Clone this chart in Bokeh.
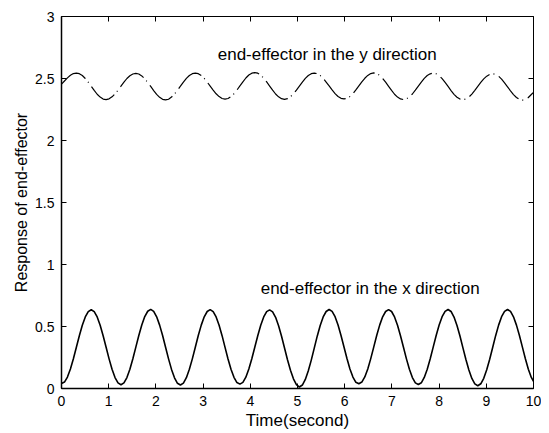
import numpy as np
from bokeh.plotting import figure
from bokeh.models import LinearAxis, FixedTicker, Label, Range1d
from bokeh.embed import file_html
from bokeh.resources import INLINE

# sampling grid (s)
time_s = list(np.round(np.arange(159) * 0.063, 3)) + [10.0]

# end-effector response, x direction
x_response = [
    0.040, 0.052, 0.092, 0.158, 0.240, 0.333, 0.426, 0.510, 0.577, 0.620, 0.635, 0.620, 0.577, 0.510, 0.426, 0.333, 0.239, 0.155, 0.088, 0.045,
    0.030, 0.045, 0.088, 0.155, 0.240, 0.334, 0.428, 0.512, 0.580, 0.623, 0.638, 0.622, 0.578, 0.511, 0.427, 0.333, 0.239, 0.154, 0.086, 0.042,
    0.028, 0.043, 0.087, 0.155, 0.239, 0.333, 0.427, 0.511, 0.578, 0.621, 0.636, 0.620, 0.577, 0.510, 0.426, 0.332, 0.238, 0.156, 0.090, 0.048,
    0.035, 0.049, 0.091, 0.157, 0.240, 0.333, 0.426, 0.510, 0.577, 0.620, 0.634, 0.618, 0.574, 0.506, 0.421, 0.327, 0.232, 0.147, 0.078, 0.032,
    0.012, 0.028, 0.073, 0.143, 0.229, 0.326, 0.422, 0.508, 0.577, 0.621, 0.637, 0.622, 0.579, 0.512, 0.428, 0.335, 0.242, 0.158, 0.092, 0.050,
    0.038, 0.052, 0.093, 0.158, 0.241, 0.334, 0.427, 0.511, 0.578, 0.621, 0.636, 0.621, 0.577, 0.510, 0.426, 0.333, 0.239, 0.155, 0.088, 0.045,
    0.032, 0.046, 0.089, 0.156, 0.240, 0.334, 0.428, 0.512, 0.579, 0.622, 0.637, 0.621, 0.576, 0.508, 0.423, 0.328, 0.234, 0.149, 0.081, 0.037,
    0.022, 0.038, 0.082, 0.151, 0.236, 0.331, 0.426, 0.511, 0.579, 0.622, 0.637, 0.622, 0.578, 0.511, 0.427, 0.334, 0.240, 0.156, 0.089,
    0.058,
]

# end-effector response, y direction
y_response = [
    2.455, 2.480, 2.505, 2.526, 2.540, 2.544, 2.539, 2.524, 2.500, 2.470, 2.437, 2.404, 2.373, 2.350, 2.334, 2.330, 2.336, 2.352, 2.376, 2.406,
    2.438, 2.470, 2.500, 2.522, 2.536, 2.541, 2.536, 2.521, 2.498, 2.468, 2.436, 2.403, 2.372, 2.348, 2.332, 2.327, 2.333, 2.350, 2.375, 2.406,
    2.438, 2.471, 2.501, 2.524, 2.539, 2.544, 2.539, 2.524, 2.501, 2.471, 2.439, 2.407, 2.377, 2.354, 2.339, 2.334, 2.339, 2.354, 2.377, 2.407,
    2.440, 2.473, 2.504, 2.528, 2.543, 2.548, 2.543, 2.527, 2.503, 2.472, 2.439, 2.406, 2.375, 2.352, 2.337, 2.332, 2.337, 2.353, 2.376, 2.407,
    2.439, 2.471, 2.501, 2.524, 2.539, 2.544, 2.539, 2.524, 2.501, 2.471, 2.440, 2.408, 2.378, 2.355, 2.340, 2.335, 2.340, 2.355, 2.378, 2.408,
    2.440, 2.472, 2.502, 2.525, 2.540, 2.545, 2.540, 2.525, 2.501, 2.470, 2.437, 2.404, 2.373, 2.350, 2.335, 2.330, 2.335, 2.351, 2.375, 2.406,
    2.439, 2.471, 2.501, 2.524, 2.538, 2.543, 2.538, 2.523, 2.499, 2.468, 2.436, 2.403, 2.372, 2.349, 2.334, 2.329, 2.334, 2.350, 2.374, 2.405,
    2.437, 2.468, 2.497, 2.519, 2.533, 2.538, 2.533, 2.518, 2.495, 2.465, 2.433, 2.401, 2.370, 2.347, 2.331, 2.326, 2.331, 2.347, 2.371,
    2.388,
]

x_ticks = [0, 1, 2, 3, 4, 5, 6, 7, 8, 9, 10]
y_ticks = [0, 0.5, 1, 1.5, 2, 2.5, 3]
y_tick_labels = {0: "0", 0.5: "0.5", 1: "1", 1.5: "1.5", 2: "2", 2.5: "2.5", 3: "3"}

label_y_text = "end-effector in the y direction"
label_x_text = "end-effector in the x direction"

FONT = "Liberation Sans"

p = figure(width=541, height=433, output_backend="svg", toolbar_location=None,
           x_range=Range1d(0, 10), y_range=Range1d(0, 3),
           min_border_left=61, min_border_right=8, min_border_top=16, min_border_bottom=45)
p.background_fill_color = "white"
p.border_fill_color = "white"
p.outline_line_color = "black"
p.outline_line_width = 1
p.xgrid.visible = False
p.ygrid.visible = False

p.line(time_s, x_response, line_color="black", line_width=1.6)
p.line(time_s, y_response, line_color="black", line_width=1.2, line_dash="30 4 1 5")

for ax in (p.xaxis[0], p.yaxis[0]):
    ax.major_tick_in = 5
    ax.major_tick_out = 0
    ax.minor_tick_line_color = None
    ax.axis_line_color = "black"
    ax.axis_line_width = 1.5
    ax.major_label_text_font = FONT
    ax.major_label_text_font_size = "14px"
    ax.major_label_text_color = "black"
    ax.axis_label_text_font = FONT
    ax.axis_label_text_font_style = "normal"
    ax.axis_label_text_color = "black"

p.xaxis[0].ticker = FixedTicker(ticks=x_ticks)
p.yaxis[0].ticker = FixedTicker(ticks=y_ticks)
p.yaxis[0].major_label_overrides = y_tick_labels
p.xaxis[0].axis_label = "Time(second)"
p.yaxis[0].axis_label = "Response of end-effector"
p.xaxis[0].axis_label_text_font_size = "17px"
p.yaxis[0].axis_label_text_font_size = "16px"
p.xaxis[0].axis_label_standoff = 2
p.yaxis[0].axis_label_standoff = 2
p.xaxis[0].major_label_standoff = 7
p.yaxis[0].major_label_standoff = 7

top_axis = LinearAxis(ticker=FixedTicker(ticks=x_ticks))
right_axis = LinearAxis(ticker=FixedTicker(ticks=y_ticks))
for ax in (top_axis, right_axis):
    ax.major_tick_in = 5
    ax.major_tick_out = 0
    ax.minor_tick_line_color = None
    ax.axis_line_color = None
    ax.major_label_text_font_size = "0px"
    ax.major_label_text_color = None
    ax.major_label_standoff = 0
p.add_layout(top_axis, "above")
p.add_layout(right_axis, "right")

p.add_layout(Label(x=3.31, y=2.69, text=label_y_text, text_font=FONT, text_font_size="17px",
                   text_color="black", text_baseline="middle", text_align="left"))
p.add_layout(Label(x=4.22, y=0.806, text=label_x_text, text_font=FONT, text_font_size="17px",
                   text_color="black", text_baseline="middle", text_align="left"))

open("out.html", "w").write(file_html(p, INLINE))
